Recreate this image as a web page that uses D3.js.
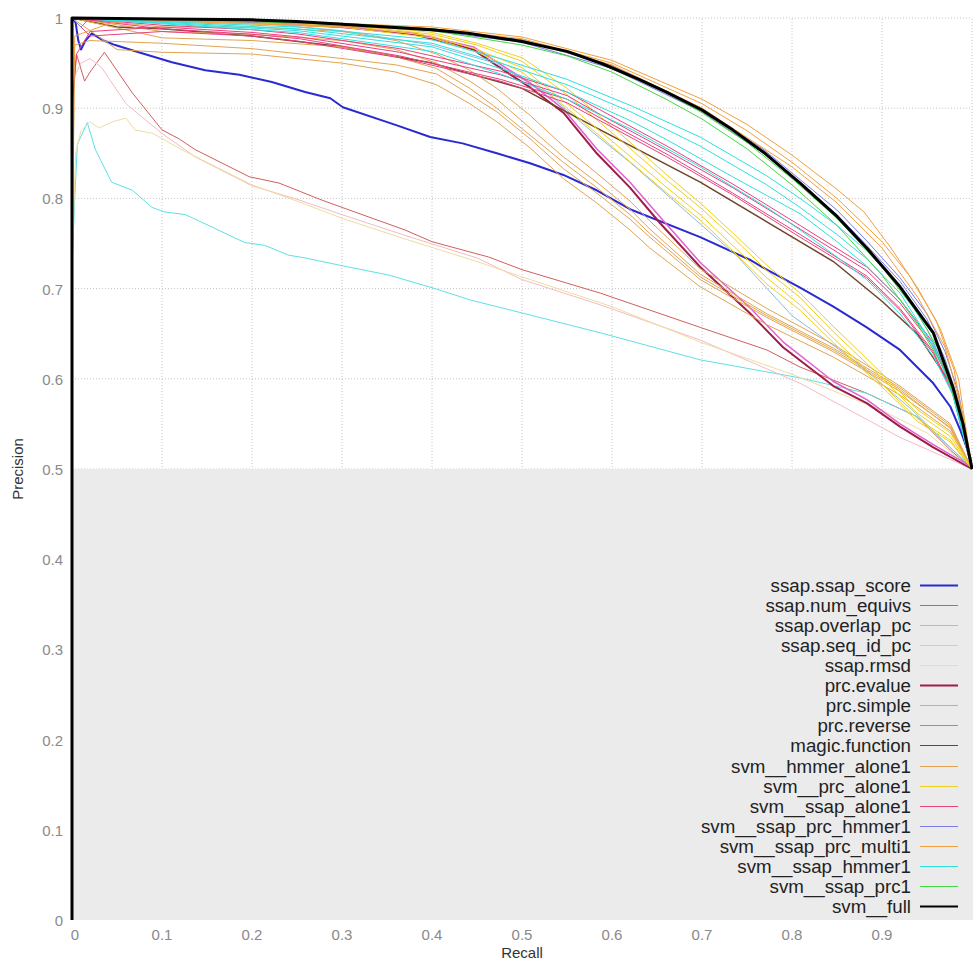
<!DOCTYPE html>
<html lang="en">
<head>
  <meta charset="UTF-8">
  <title>Precision / Recall</title>
  <script src="https://d3js.org/d3.v7.min.js"></script>
  <style>
    body { margin: 0; background: #ffffff; }
    svg { display: block; font-family: "Liberation Sans", Arial, sans-serif; }
    .grid line { stroke: #c4c4c4; stroke-width: 1; stroke-dasharray: 1,2; }
    .tick-label { fill: #8a8a8a; font-size: 15px; }
    .axis-title { fill: #333333; font-size: 15px; }
    .legend text { fill: #222222; font-size: 17.5px; text-anchor: end; }
    .curve { fill: none; stroke-linejoin: round; }
  </style>
</head>
<body>
<svg id="chart" width="973" height="960"></svg>
<script>
// ---- data: [recall, precision] points ----
const xTicks = [0, 0.1, 0.2, 0.3, 0.4, 0.5, 0.6, 0.7, 0.8, 0.9];
const yTicks = [0, 0.1, 0.2, 0.3, 0.4, 0.5, 0.6, 0.7, 0.8, 0.9, 1];
const yTickLabels = ["0", "0.1", "0.2", "0.3", "0.4", "0.5", "0.6", "0.7", "0.8", "0.9", "1"];

const ssapScore = [[0,1],[0.004,0.995],[0.007,0.975],[0.01,0.965],[0.015,0.975],[0.022,0.983],[0.035,0.975],[0.048,0.97],[0.074,0.962],[0.111,0.951],[0.148,0.942],[0.186,0.937],[0.222,0.929],[0.259,0.918],[0.287,0.911],[0.301,0.901],[0.361,0.881],[0.398,0.868],[0.434,0.861],[0.472,0.85],[0.509,0.839],[0.546,0.826],[0.583,0.809],[0.62,0.788],[0.698,0.757],[0.753,0.732],[0.772,0.721],[0.809,0.701],[0.846,0.68],[0.883,0.657],[0.92,0.632],[0.957,0.595],[0.976,0.569],[0.987,0.543],[0.998,0.513],[1,0.5]];
const ssapNumEquivs = [[0,0.9],[0.005,0.96],[0.011,0.94],[0.014,0.93],[0.02,0.94],[0.036,0.962],[0.067,0.917],[0.1,0.876],[0.119,0.866],[0.137,0.854],[0.197,0.824],[0.23,0.817],[0.278,0.798],[0.314,0.785],[0.37,0.765],[0.4,0.752],[0.463,0.735],[0.5,0.721],[0.587,0.695],[0.698,0.657],[0.772,0.632],[0.809,0.613],[0.883,0.584],[0.939,0.558],[0.976,0.521],[1,0.5]];
const ssapOverlapPc = [[0,0.72],[0.003,0.8],[0.006,0.86],[0.017,0.884],[0.026,0.854],[0.044,0.818],[0.067,0.809],[0.089,0.79],[0.103,0.785],[0.126,0.782],[0.156,0.768],[0.192,0.751],[0.214,0.748],[0.241,0.737],[0.259,0.734],[0.297,0.726],[0.352,0.715],[0.4,0.701],[0.444,0.687],[0.5,0.673],[0.587,0.651],[0.698,0.621],[0.809,0.601],[0.883,0.584],[0.939,0.558],[0.994,0.507],[1,0.5]];
const ssapSeqIdPc = [[0,0.93],[0.01,0.95],[0.02,0.955],[0.033,0.945],[0.06,0.905],[0.1,0.872],[0.137,0.846],[0.2,0.814],[0.25,0.799],[0.3,0.782],[0.37,0.759],[0.45,0.734],[0.5,0.71],[0.587,0.682],[0.698,0.643],[0.809,0.595],[0.92,0.535],[1,0.5]];
const ssapRmsd = [[0,0.72],[0.004,0.85],[0.01,0.875],[0.02,0.885],[0.03,0.878],[0.045,0.885],[0.06,0.889],[0.07,0.876],[0.09,0.872],[0.12,0.855],[0.16,0.835],[0.2,0.815],[0.25,0.797],[0.3,0.778],[0.37,0.755],[0.45,0.73],[0.5,0.713],[0.6,0.68],[0.7,0.64],[0.8,0.605],[0.9,0.565],[0.95,0.54],[1,0.5]];
const prcEvalue = [[0,1],[0.1,0.998],[0.2,0.995],[0.3,0.99],[0.38,0.982],[0.446,0.965],[0.48,0.942],[0.509,0.923],[0.546,0.895],[0.583,0.85],[0.62,0.812],[0.653,0.773],[0.698,0.724],[0.753,0.673],[0.79,0.635],[0.846,0.592],[0.883,0.573],[0.92,0.547],[0.957,0.524],[1,0.5]];
const prcSimple = [[0,1],[0.2,0.995],[0.3,0.986],[0.4,0.97],[0.47,0.95],[0.53,0.915],[0.58,0.872],[0.62,0.84],[0.66,0.805],[0.7,0.77],[0.74,0.735],[0.8,0.67],[0.867,0.622],[0.933,0.566],[1,0.5]];
const prcReverse = [[0,1],[0.1,0.998],[0.2,0.995],[0.3,0.99],[0.38,0.983],[0.446,0.968],[0.48,0.946],[0.509,0.928],[0.546,0.899],[0.583,0.855],[0.62,0.818],[0.653,0.78],[0.698,0.729],[0.753,0.679],[0.79,0.641],[0.846,0.597],[0.883,0.577],[0.92,0.55],[0.957,0.527],[1,0.502]];
const magicFunction = [[0,1],[0.05,0.99],[0.1,0.988],[0.2,0.98],[0.3,0.968],[0.4,0.95],[0.5,0.922],[0.587,0.876],[0.698,0.818],[0.772,0.774],[0.846,0.73],[0.9,0.686],[0.939,0.65],[0.976,0.595],[1,0.5]];

const hmmerAlone = [
  [[0,0.7],[0.003,0.97],[0.02,0.975],[0.1,0.972],[0.2,0.966],[0.3,0.955],[0.36,0.948],[0.405,0.938],[0.442,0.915],[0.472,0.896],[0.509,0.866],[0.546,0.833],[0.583,0.806],[0.62,0.777],[0.642,0.757],[0.698,0.71],[0.772,0.668],[0.846,0.63],[0.92,0.586],[0.976,0.546],[1,0.5]],
  [[0,1],[0.1,0.99],[0.2,0.99],[0.3,0.985],[0.36,0.975],[0.405,0.96],[0.442,0.942],[0.472,0.922],[0.509,0.892],[0.546,0.858],[0.583,0.828],[0.62,0.797],[0.642,0.775],[0.698,0.722],[0.772,0.678],[0.846,0.638],[0.92,0.592],[0.976,0.55],[1,0.5]],
  [[0,1],[0.1,0.985],[0.2,0.982],[0.3,0.975],[0.36,0.965],[0.405,0.95],[0.442,0.93],[0.472,0.91],[0.509,0.878],[0.546,0.846],[0.583,0.818],[0.62,0.788],[0.642,0.766],[0.698,0.716],[0.772,0.672],[0.846,0.634],[0.92,0.59],[0.976,0.548],[1,0.5]],
  [[0,1],[0.05,0.965],[0.1,0.962],[0.2,0.96],[0.3,0.95],[0.36,0.94],[0.405,0.926],[0.442,0.905],[0.472,0.885],[0.509,0.856],[0.546,0.822],[0.583,0.795],[0.62,0.765],[0.642,0.745],[0.698,0.702],[0.772,0.66],[0.846,0.624],[0.92,0.582],[0.976,0.542],[1,0.5]],
  [[0,1],[0.1,0.978],[0.2,0.975],[0.3,0.968],[0.36,0.957],[0.405,0.944],[0.442,0.922],[0.472,0.9],[0.509,0.87],[0.546,0.84],[0.583,0.812],[0.62,0.782],[0.642,0.761],[0.698,0.713],[0.772,0.67],[0.846,0.632],[0.92,0.588],[0.976,0.545],[1,0.5]]
];
const prcAlone = [
  [[0,1],[0.2,0.998],[0.3,0.993],[0.4,0.982],[0.45,0.97],[0.5,0.952],[0.55,0.915],[0.609,0.865],[0.661,0.82],[0.698,0.79],[0.734,0.757],[0.772,0.72],[0.809,0.69],[0.846,0.652],[0.901,0.6],[0.939,0.562],[0.976,0.536],[1,0.5]],
  [[0,1],[0.3,0.992],[0.4,0.98],[0.45,0.965],[0.5,0.945],[0.55,0.905],[0.609,0.856],[0.661,0.812],[0.698,0.782],[0.734,0.748],[0.772,0.712],[0.809,0.682],[0.846,0.645],[0.901,0.593],[0.939,0.556],[0.976,0.532],[1,0.5]],
  [[0,1],[0.3,0.99],[0.4,0.978],[0.45,0.962],[0.5,0.94],[0.55,0.9],[0.609,0.85],[0.661,0.806],[0.698,0.776],[0.734,0.742],[0.772,0.705],[0.809,0.676],[0.846,0.64],[0.901,0.59],[0.939,0.553],[0.976,0.53],[1,0.5]],
  [[0,1],[0.3,0.994],[0.4,0.984],[0.45,0.972],[0.5,0.956],[0.55,0.922],[0.609,0.872],[0.661,0.826],[0.698,0.795],[0.734,0.762],[0.772,0.726],[0.809,0.695],[0.846,0.658],[0.901,0.605],[0.939,0.566],[0.976,0.54],[1,0.5]]
];
const ssapAlone = [
  [[0,0.9],[0.005,0.96],[0.02,0.985],[0.1,0.99],[0.2,0.984],[0.253,0.979],[0.364,0.962],[0.476,0.937],[0.55,0.914],[0.587,0.893],[0.661,0.853],[0.734,0.812],[0.809,0.766],[0.883,0.72],[0.92,0.684],[0.957,0.636],[0.979,0.588],[1,0.5]],
  [[0,1],[0.02,0.98],[0.1,0.985],[0.2,0.98],[0.253,0.974],[0.364,0.956],[0.476,0.93],[0.55,0.906],[0.587,0.886],[0.661,0.846],[0.734,0.804],[0.809,0.757],[0.883,0.712],[0.92,0.676],[0.957,0.628],[0.979,0.582],[1,0.5]],
  [[0,1],[0.1,0.992],[0.2,0.987],[0.253,0.982],[0.364,0.966],[0.476,0.941],[0.55,0.918],[0.587,0.898],[0.661,0.858],[0.734,0.816],[0.809,0.77],[0.883,0.724],[0.92,0.688],[0.957,0.64],[0.979,0.59],[1,0.5]],
  [[0,1],[0.1,0.988],[0.2,0.982],[0.253,0.977],[0.364,0.958],[0.476,0.932],[0.55,0.91],[0.587,0.889],[0.661,0.849],[0.734,0.806],[0.809,0.76],[0.883,0.714],[0.92,0.678],[0.957,0.63],[0.979,0.585],[1,0.5]]
];
const ssapPrcHmmer = [
  [[0,1],[0.01,0.99],[0.02,1],[0.3,0.994],[0.4,0.988],[0.5,0.976],[0.6,0.947],[0.7,0.9],[0.77,0.853],[0.81,0.82],[0.85,0.787],[0.883,0.753],[0.92,0.712],[0.95,0.672],[0.97,0.63],[0.985,0.585],[1,0.5]],
  [[0,1],[0.3,0.993],[0.4,0.986],[0.5,0.973],[0.6,0.944],[0.7,0.896],[0.77,0.849],[0.81,0.815],[0.85,0.782],[0.883,0.748],[0.92,0.708],[0.95,0.666],[0.97,0.622],[0.985,0.575],[1,0.5]]
];
const ssapPrcMulti = [
  [[0,0.75],[0.003,0.98],[0.05,0.997],[0.2,0.996],[0.3,0.993],[0.4,0.988],[0.5,0.977],[0.6,0.95],[0.7,0.905],[0.75,0.875],[0.8,0.84],[0.85,0.8],[0.9,0.752],[0.93,0.715],[0.96,0.665],[0.98,0.61],[1,0.5]],
  [[0,1],[0.3,0.994],[0.4,0.99],[0.5,0.979],[0.6,0.953],[0.7,0.91],[0.75,0.882],[0.8,0.848],[0.85,0.81],[0.88,0.785],[0.91,0.745],[0.94,0.7],[0.965,0.655],[0.985,0.6],[1,0.5]],
  [[0,1],[0.4,0.987],[0.5,0.975],[0.6,0.948],[0.7,0.9],[0.8,0.835],[0.85,0.795],[0.9,0.745],[0.94,0.69],[0.97,0.635],[0.99,0.56],[1,0.5]]
];
const ssapHmmer = [
  [[0,1],[0.05,0.998],[0.25,0.99],[0.4,0.976],[0.476,0.955],[0.55,0.932],[0.623,0.902],[0.698,0.868],[0.772,0.825],[0.809,0.8],[0.85,0.77],[0.883,0.742],[0.92,0.702],[0.95,0.655],[0.976,0.6],[1,0.5]],
  [[0,1],[0.25,0.988],[0.4,0.972],[0.476,0.95],[0.55,0.926],[0.623,0.895],[0.698,0.858],[0.772,0.815],[0.809,0.79],[0.85,0.76],[0.883,0.733],[0.92,0.695],[0.95,0.648],[0.976,0.595],[1,0.5]],
  [[0,1],[0.25,0.986],[0.4,0.968],[0.476,0.944],[0.55,0.918],[0.623,0.885],[0.661,0.865],[0.734,0.824],[0.809,0.783],[0.85,0.752],[0.883,0.725],[0.92,0.688],[0.957,0.638],[0.976,0.592],[1,0.5]],
  [[0,1],[0.25,0.984],[0.4,0.963],[0.476,0.938],[0.55,0.91],[0.623,0.876],[0.698,0.835],[0.772,0.79],[0.809,0.765],[0.85,0.735],[0.883,0.71],[0.92,0.672],[0.957,0.625],[0.98,0.58],[1,0.5]]
];
const ssapPrc = [
  [[0,1],[0.1,0.999],[0.3,0.993],[0.4,0.986],[0.5,0.97],[0.55,0.958],[0.6,0.94],[0.66,0.91],[0.7,0.888],[0.75,0.855],[0.8,0.815],[0.85,0.77],[0.9,0.715],[0.94,0.66],[0.97,0.61],[0.99,0.55],[1,0.5]],
  [[0,1],[0.1,0.999],[0.3,0.994],[0.4,0.988],[0.5,0.975],[0.55,0.962],[0.6,0.945],[0.66,0.917],[0.7,0.895],[0.75,0.862],[0.8,0.822],[0.85,0.778],[0.9,0.724],[0.94,0.672],[0.97,0.62],[0.99,0.555],[1,0.5]]
];
const svmFull = [[0,0],[0,1],[0.1,0.999],[0.2,0.998],[0.25,0.996],[0.3,0.993],[0.35,0.99],[0.4,0.987],[0.44,0.983],[0.5,0.974],[0.55,0.963],[0.59,0.949],[0.63,0.932],[0.66,0.918],[0.7,0.898],[0.734,0.876],[0.77,0.85],[0.81,0.816],[0.85,0.78],[0.883,0.745],[0.92,0.702],[0.957,0.651],[0.979,0.59],[0.99,0.55],[1,0.5]];

const seriesNames = ["ssap.ssap_score", "ssap.num_equivs", "ssap.overlap_pc", "ssap.seq_id_pc", "ssap.rmsd",
  "prc.evalue", "prc.simple", "prc.reverse", "magic.function", "svm__hmmer_alone1", "svm__prc_alone1",
  "svm__ssap_alone1", "svm__ssap_prc_hmmer1", "svm__ssap_prc_multi1", "svm__ssap_hmmer1", "svm__ssap_prc1", "svm__full"];
const seriesCurves = [[ssapScore], [ssapNumEquivs], [ssapOverlapPc], [ssapSeqIdPc], [ssapRmsd],
  [prcEvalue], [prcSimple], [prcReverse], [magicFunction], hmmerAlone, prcAlone,
  ssapAlone, ssapPrcHmmer, ssapPrcMulti, ssapHmmer, ssapPrc, [svmFull]];

// styles, one per series
const colors = ["#2a2ad2", "#d0605c", "#5ee0e6", "#f2bcc4", "#f0dca0",
  "#a01c48", "#8cbcdc", "#e060d0", "#6e4426", "#e2a452", "#f0d020",
  "#e8407e", "#7c7ce6", "#f2a040", "#2ee0e0", "#44d844", "#000000"];
const widths = [2, 1, 1, 1, 1, 2, 1, 1.5, 1.5, 1, 1, 1, 1, 1, 1, 1, 3];

// ---- drawing ----
const svg = d3.select("#chart");
const x = d3.scaleLinear().domain([0, 1]).range([72, 972]);
const y = d3.scaleLinear().domain([0, 1]).range([920, 18]);

// grid
const grid = svg.append("g").attr("class", "grid");
grid.selectAll("line.v").data(xTicks.filter(d => d > 0).concat([1])).enter().append("line")
  .attr("class", "v").attr("x1", d => x(d)).attr("x2", d => x(d)).attr("y1", y(0)).attr("y2", y(1));
grid.selectAll("line.h").data(yTicks.filter(d => d > 0)).enter().append("line")
  .attr("class", "h").attr("x1", x(0)).attr("x2", x(1)).attr("y1", d => y(d)).attr("y2", d => y(d));

// shaded region below precision 0.5
svg.append("rect")
  .attr("x", x(0) + 1).attr("y", y(0.5))
  .attr("width", x(1) - x(0)).attr("height", y(0) - y(0.5))
  .attr("fill", "#ebebeb");

// tick labels
svg.append("g").selectAll("text").data(yTicks).enter().append("text")
  .attr("class", "tick-label").attr("text-anchor", "end")
  .attr("x", 63).attr("y", d => y(d) + 6)
  .text((d, i) => yTickLabels[i]);
svg.append("g").selectAll("text").data(xTicks).enter().append("text")
  .attr("class", "tick-label").attr("text-anchor", "middle")
  .attr("x", d => x(d) + (d === 0 ? 3 : 0)).attr("y", 940)
  .text(d => d3.format("")(d));

svg.append("text").attr("class", "axis-title").attr("text-anchor", "middle")
  .attr("x", x(0.5)).attr("y", 958).text("Recall");
svg.append("text").attr("class", "axis-title").attr("text-anchor", "middle")
  .attr("transform", `translate(23,${y(0.5)}) rotate(-90)`).text("Precision");

// curves
const line = d3.line().x(d => x(d[0])).y(d => y(d[1]));
const curves = svg.append("g");
seriesCurves.forEach((folds, i) => {
  curves.selectAll(null).data(folds).enter().append("path")
    .attr("class", "curve")
    .attr("stroke", colors[i])
    .attr("stroke-width", widths[i])
    .attr("d", line);
});

// legend
const legend = svg.append("g").attr("class", "legend");
const rows = legend.selectAll("g").data(seriesNames).enter().append("g")
  .attr("transform", (d, i) => `translate(0,${Math.round(585 + i * 20.06) + 0.5})`);
rows.append("text").attr("transform", "translate(911,6) scale(1.07,1)").text(d => d);
rows.append("line").attr("x1", 920).attr("x2", 958).attr("y1", 0).attr("y2", 0)
  .attr("stroke", (d, i) => colors[i])
  .attr("stroke-width", (d, i) => widths[i] >= 2 ? 2 : 1);
</script>
</body>
</html>
